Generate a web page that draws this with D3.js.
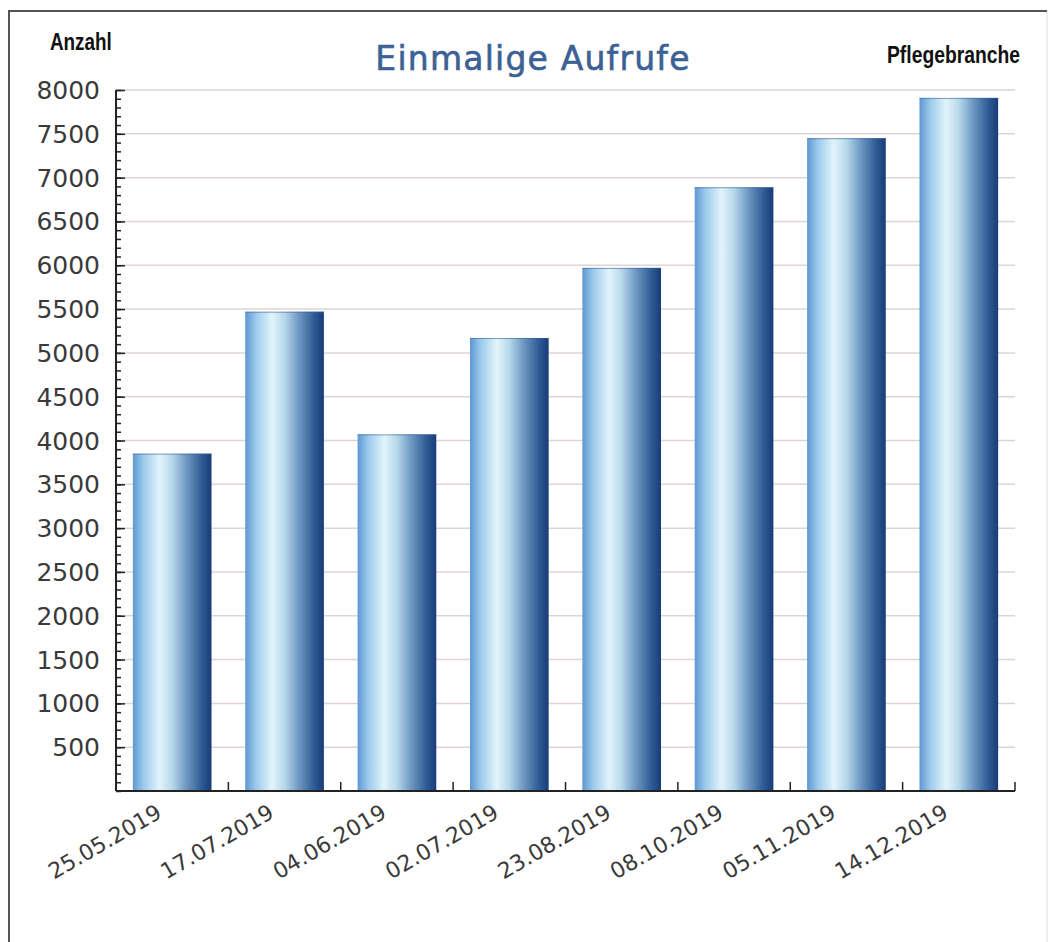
<!DOCTYPE html>
<html>
<head>
<meta charset="utf-8">
<script src="https://cdn.jsdelivr.net/npm/d3@7"></script>
<style>
  body { margin: 0; background: #fff; }
  svg { display: block; }
</style>
</head>
<body>
<div id="chart"></div>
<script>
const dates = ["25.05.2019", "17.07.2019", "04.06.2019", "02.07.2019", "23.08.2019", "08.10.2019", "05.11.2019", "14.12.2019"];
const visits = [3850, 5470, 4070, 5170, 5970, 6890, 7450, 7910];
const yTicks = [500, 1000, 1500, 2000, 2500, 3000, 3500, 4000, 4500, 5000, 5500, 6000, 6500, 7000, 7500, 8000];

const width = 1051;
const height = 942;
const plotLeft = 116, plotRight = 1015, plotTop = 90, plotBottom = 791;

const svg = d3.select("#chart")
              .append("svg")
              .attr("width", width)
              .attr("height", height);

// frame
svg.append("rect")
   .attr("x", 9).attr("y", 11)
   .attr("width", 1038).attr("height", 940)
   .attr("fill", "#fff")
   .attr("stroke", "#ddd");
svg.append("path")
   .attr("d", "M9,942V11H1047")
   .attr("fill", "none")
   .attr("stroke", "#555")
   .attr("stroke-width", 2);

const defs = svg.append("defs");
const grad = defs.append("linearGradient")
                 .attr("id", "barGrad")
                 .attr("x1", "0%").attr("x2", "100%")
                 .attr("y1", "0%").attr("y2", "0%");
[["0%", "#5f97d2"], ["14%", "#9ccbec"], ["34%", "#e2f4fb"], ["50%", "#b6d8ea"],
 ["68%", "#6e98c2"], ["88%", "#2d5a94"], ["100%", "#183c78"]]
  .forEach(([o, c]) => grad.append("stop").attr("offset", o).attr("stop-color", c));

const x = d3.scaleBand()
            .domain(dates)
            .range([plotLeft, plotRight])
            .paddingInner(0.3)
            .paddingOuter(0.15);

const y = d3.scaleLinear()
            .domain([0, 8000])
            .range([plotBottom, plotTop]);

// gridlines
svg.append("g")
   .selectAll("line")
   .data(yTicks)
   .enter()
   .append("line")
   .attr("x1", plotLeft).attr("x2", plotRight)
   .attr("y1", d => y(d)).attr("y2", d => y(d))
   .attr("stroke", "#e0d4d0")
   .attr("stroke-width", 1.5);

// bars
svg.append("g")
   .selectAll("rect")
   .data(visits)
   .enter()
   .append("rect")
   .attr("x", (d, i) => x(dates[i]))
   .attr("y", d => y(d))
   .attr("width", x.bandwidth())
   .attr("height", d => plotBottom - y(d))
   .attr("fill", "url(#barGrad)");

svg.append("g")
   .selectAll("line")
   .data(visits)
   .enter()
   .append("line")
   .attr("x1", (d, i) => x(dates[i]))
   .attr("x2", (d, i) => x(dates[i]) + x.bandwidth())
   .attr("y1", d => y(d) + 0.5)
   .attr("y2", d => y(d) + 0.5)
   .attr("stroke", "#3a5f94")
   .attr("stroke-opacity", 0.6);

// y axis with minor ticks
const yAxisMinor = d3.axisRight(y)
                     .tickValues(d3.range(0, 8001, 100))
                     .tickSize(5)
                     .tickFormat("");
svg.append("g")
   .attr("transform", `translate(${plotLeft},0)`)
   .call(yAxisMinor)
   .call(g => g.select(".domain").remove())
   .selectAll("line").attr("stroke", "#222").attr("stroke-width", 1.5);

const yAxis = d3.axisRight(y)
                .tickValues(yTicks)
                .tickSize(9)
                .tickFormat("");
svg.append("g")
   .attr("transform", `translate(${plotLeft},0)`)
   .call(yAxis)
   .call(g => g.select(".domain").attr("stroke", "#222").attr("stroke-width", 2).attr("d", `M0,${plotTop}V${plotBottom}`))
   .selectAll("line").attr("stroke", "#222").attr("stroke-width", 1.5);

svg.append("g")
   .selectAll("text")
   .data(yTicks)
   .enter()
   .append("text")
   .attr("x", 100)
   .attr("y", d => y(d))
   .attr("dy", "0.36em")
   .attr("text-anchor", "end")
   .attr("font-family", "DejaVu Sans")
   .attr("font-size", 25)
   .attr("fill", "#3a3a3a")
   .text(d => d);

// x axis
const bounds = dates.map(d => x(d) + x.bandwidth() + x.step() * x.paddingInner() / 2);
svg.append("line")
   .attr("x1", plotLeft).attr("x2", plotRight)
   .attr("y1", plotBottom).attr("y2", plotBottom)
   .attr("stroke", "#222")
   .attr("stroke-width", 2);
svg.append("g")
   .selectAll("line")
   .data(bounds)
   .enter()
   .append("line")
   .attr("x1", d => d).attr("x2", d => d)
   .attr("y1", plotBottom).attr("y2", plotBottom - 9)
   .attr("stroke", "#222")
   .attr("stroke-width", 1.5);

svg.append("g")
   .selectAll("text")
   .data(dates)
   .enter()
   .append("text")
   .attr("transform", d => `translate(${x(d) + x.bandwidth() / 2 - 13},${plotBottom + 19}) rotate(-30)`)
   .attr("text-anchor", "end")
   .attr("dy", "0.35em")
   .attr("font-family", "DejaVu Sans")
   .attr("font-size", 22)
   .attr("fill", "#3a3a3a")
   .text(d => d);

// titles
svg.append("text")
   .attr("x", 533).attr("y", 70)
   .attr("text-anchor", "middle")
   .attr("font-family", "DejaVu Sans")
   .attr("font-size", 33)
   .attr("letter-spacing", 1.2)
   .attr("stroke", "#3b6195")
   .attr("stroke-width", 0.6)
   .attr("fill", "#3b6195")
   .text("Einmalige Aufrufe");

svg.append("text")
   .attr("transform", "translate(50,50) scale(0.82,1)")
   .attr("font-family", "Liberation Sans")
   .attr("font-weight", "bold")
   .attr("font-size", 23)
   .attr("fill", "#111")
   .text("Anzahl");

svg.append("text")
   .attr("transform", "translate(1020,63) scale(0.84,1)")
   .attr("text-anchor", "end")
   .attr("font-family", "Liberation Sans")
   .attr("font-weight", "bold")
   .attr("font-size", 23)
   .attr("fill", "#111")
   .text("Pflegebranche");
</script>
</body>
</html>
